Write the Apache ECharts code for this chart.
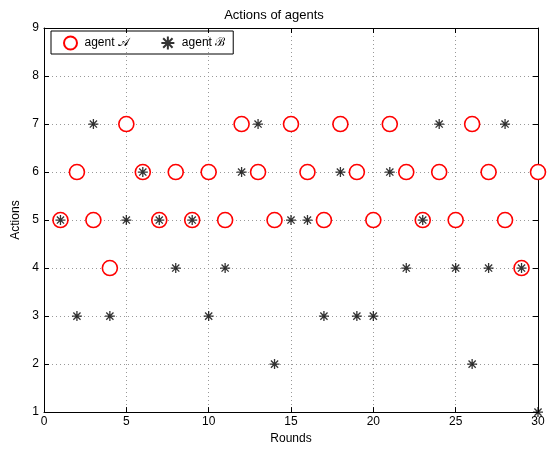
<!DOCTYPE html>
<html><head><meta charset="utf-8">
<script src="https://cdn.jsdelivr.net/npm/echarts@6/dist/echarts.min.js"></script>
<style>html,body{margin:0;padding:0;background:#fff}#c{width:548px;height:450px}</style>
</head><body><div id="c"></div>
<script>
const rounds = [1,2,3,4,5,6,7,8,9,10,11,12,13,14,15,16,17,18,19,20,21,22,23,24,25,26,27,28,29,30];
const agentA = [5,6,5,4,7,6,5,6,5,6,5,7,6,5,7,6,5,7,6,5,7,6,5,6,5,7,6,5,4,6];
const agentB = [5,3,7,3,5,6,5,4,5,3,4,6,7,2,5,5,3,6,3,3,6,4,5,7,4,2,4,7,4,1];
const xTicks = [0,5,10,15,20,25,30];
const yTicks = [1,2,3,4,5,6,7,8,9];

const font = 'Liberation Sans, Arial, sans-serif';
const star = 'path://M0,-5L0,5M-5,0L5,0M-3.6,-3.6L3.6,3.6M-3.6,3.6L3.6,-3.6';
const chart = echarts.init(document.getElementById('c'));
const axisCommon = {
  axisLine: {show: true, onZero: false, lineStyle: {color: '#000', width: 1}},
  axisTick: {show: true, inside: true, length: 5, lineStyle: {color: '#000'}},
};
chart.setOption({
  animation: false,
  title: {text: 'Actions of agents', left: 'center', top: 4,
    textStyle: {fontFamily: font, fontSize: 13, fontWeight: 'normal', color: '#000'}},
  legend: {
    left: 51, top: 31, orient: 'horizontal',
    borderColor: '#000', borderWidth: 1, borderRadius: 0,
    padding: [3, 8, 2, 12], itemGap: 30, itemWidth: 18, itemHeight: 13,
    textStyle: {fontFamily: font, fontSize: 12, color: '#000'},
    data: ['agent 𝒜', 'agent ℬ']
  },
  grid: {left: 44, right: 10, top: 28, bottom: 34},
  xAxis: [
    Object.assign({type: 'value', min: 0, max: 30, interval: 5, position: 'bottom',
      name: 'Rounds', nameLocation: 'middle', nameGap: 18,
      nameTextStyle: {fontFamily: font, fontSize: 12, color: '#000'},
      axisLabel: {fontFamily: font, fontSize: 12, color: '#000', margin: 4, formatter: v => xTicks.includes(v) ? String(v) : ''},
      splitLine: {show: true, lineStyle: {color: '#999', type: [1, 3], width: 1}}}, axisCommon),
    Object.assign({type: 'value', min: 0, max: 30, interval: 5, position: 'top',
      axisLabel: {show: false}, splitLine: {show: false}}, axisCommon)
  ],
  yAxis: [
    Object.assign({type: 'value', min: 1, max: 9, interval: 1, position: 'left',
      name: 'Actions', nameLocation: 'middle', nameGap: 20,
      nameTextStyle: {fontFamily: font, fontSize: 12, color: '#000'},
      axisLabel: {fontFamily: font, fontSize: 12, color: '#000', margin: 5, formatter: v => yTicks.includes(v) ? String(v) : ''},
      splitLine: {show: true, lineStyle: {color: '#999', type: [1, 3], width: 1}}}, axisCommon),
    Object.assign({type: 'value', min: 1, max: 9, interval: 1, position: 'right',
      axisLabel: {show: false}, splitLine: {show: false}}, axisCommon)
  ],
  series: [
    {name: 'agent 𝒜', type: 'scatter', clip: false, symbol: 'circle', symbolSize: 15,
      itemStyle: {color: '#fff', borderColor: '#ff0000', borderWidth: 1.6, opacity: 1},
      data: rounds.map((r, i) => [r, agentA[i]]), z: 2},
    {name: 'agent ℬ', type: 'scatter', clip: false, symbol: star, symbolSize: 10,
      itemStyle: {color: 'none', borderColor: '#000', borderWidth: 1.3},
      data: rounds.map((r, i) => [r, agentB[i]]), z: 3}
  ]
});
</script></body></html>
